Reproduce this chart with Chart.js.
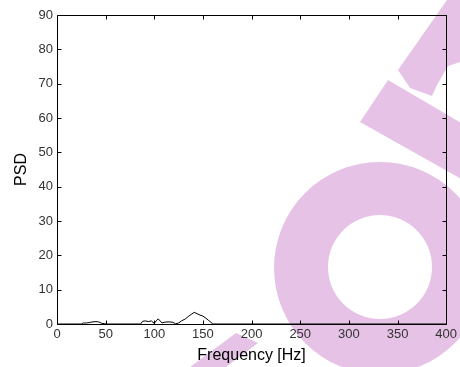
<!DOCTYPE html>
<html>
<head>
<meta charset="utf-8">
<script src="https://cdn.jsdelivr.net/npm/chart.js@4"></script>
<style>
  html, body { margin: 0; padding: 0; background: #fff; }
  #wrap { width: 460px; height: 367px; position: relative; }
</style>
</head>
<body>
<div id="wrap"><canvas id="c" width="460" height="367"></canvas></div>
<script>
// Data
const freq = [0, 25, 27, 30, 33, 36, 40, 43, 46, 49, 52, 86, 88, 91, 94, 97, 100, 102, 104, 106, 108, 110, 113, 116, 119, 122, 125, 128, 132, 135, 138, 141, 144, 147, 150, 153, 156, 158, 160, 400];
const psd  = [0, 0, 0.3, 0.3, 0.4, 0.6, 0.7, 0.6, 0.2, 0.1, 0, 0, 0.8, 0.9, 0.7, 0.9, 0.2, 0.9, 1.5, 0.9, 0.3, 0.5, 0.6, 0.6, 0.5, 0.05, 0.3, 0.9, 1.5, 2.2, 2.8, 3.4, 3.0, 2.6, 2.3, 1.7, 1.0, 0.6, 0, 0];
const xTicks = [0, 50, 100, 150, 200, 250, 300, 350, 400];
const yTicks = [0, 10, 20, 30, 40, 50, 60, 70, 80, 90];
const xTitle = 'Frequency [Hz]';
const yTitle = 'PSD';

const points = freq.map((f, i) => ({ x: f, y: psd[i] }));

// Background watermark decoration (not data)
const watermark = {
  id: 'watermark',
  beforeDraw(chart) {
    const ctx = chart.ctx;
    ctx.save();
    ctx.fillStyle = '#e6c2e6';
    // ring
    ctx.beginPath();
    ctx.arc(380, 268, 106, 0, Math.PI * 2);
    ctx.moveTo(380 + 52, 267);
    ctx.arc(380, 267, 52, 0, Math.PI * 2, true);
    ctx.fill('evenodd');
    // band
    ctx.beginPath();
    ctx.moveTo(360, 122); ctx.lineTo(388, 80); ctx.lineTo(470, 128); ctx.lineTo(470, 184);
    ctx.closePath(); ctx.fill();
    // upper arc piece
    ctx.beginPath();
    ctx.moveTo(398, 70); ctx.lineTo(447, 0); ctx.lineTo(460, 0); ctx.lineTo(460, 62);
    ctx.lineTo(448, 66); ctx.lineTo(437, 85); ctx.lineTo(432, 96); ctx.lineTo(410, 88);
    ctx.closePath(); ctx.fill();
    // lower-left stripe
    ctx.beginPath();
    ctx.moveTo(190, 367); ctx.lineTo(236, 333); ctx.lineTo(258, 343); ctx.lineTo(226, 367);
    ctx.closePath(); ctx.fill();
    ctx.restore();
  }
};

// MATLAB-like box with inward ticks, using the chart's own scales
const frame = {
  id: 'frame',
  afterDraw(chart) {
    const { ctx, chartArea: { left, right, top, bottom }, scales: { x, y } } = chart;
    ctx.save();
    ctx.strokeStyle = '#000';
    ctx.lineWidth = 1;
    ctx.beginPath();
    const L = Math.round(left) + 0.5, R = Math.round(right) + 0.5;
    const T = Math.round(top) + 0.5, B = Math.round(bottom) + 0.5;
    ctx.rect(L, T, R - L, B - T);
    x.ticks.forEach(t => {
      const px = Math.round(x.getPixelForValue(t.value)) + 0.5;
      ctx.moveTo(px, B); ctx.lineTo(px, B - 4);
      ctx.moveTo(px, T); ctx.lineTo(px, T + 4);
    });
    y.ticks.forEach(t => {
      const py = Math.round(y.getPixelForValue(t.value)) + 0.5;
      ctx.moveTo(L, py); ctx.lineTo(L + 4, py);
      ctx.moveTo(R, py); ctx.lineTo(R - 4, py);
    });
    ctx.stroke();
    ctx.restore();
  }
};

const tickFont = { family: 'Liberation Sans, Arial, sans-serif', size: 13 };
const titleFont = { family: 'Liberation Sans, Arial, sans-serif', size: 16 };

new Chart(document.getElementById('c'), {
  type: 'line',
  data: {
    datasets: [{
      data: points,
      borderColor: '#000',
      borderWidth: 1,
      pointRadius: 0,
      tension: 0,
      fill: false
    }]
  },
  options: {
    responsive: false,
    animation: false,
    events: [],
    layout: { padding: { left: 0, right: 11, top: 15, bottom: 0 } },
    plugins: { legend: { display: false }, tooltip: { enabled: false } },
    scales: {
      x: {
        type: 'linear',
        min: xTicks[0], max: xTicks[xTicks.length - 1],
        afterBuildTicks: s => { s.ticks = xTicks.map(v => ({ value: v })); },
        afterFit: s => { s.height = 43; },
        grid: { display: false, drawTicks: false },
        border: { display: false },
        ticks: { font: tickFont, color: '#333', padding: 3, maxRotation: 0, autoSkip: false },
        title: { display: true, text: xTitle, font: titleFont, color: '#000', padding: { top: 0, bottom: 2 } }
      },
      y: {
        type: 'linear',
        min: yTicks[0], max: yTicks[yTicks.length - 1],
        afterBuildTicks: s => { s.ticks = yTicks.map(v => ({ value: v })); },
        afterFit: s => { s.width = 57; },
        grid: { display: false, drawTicks: false },
        border: { display: false },
        ticks: { font: tickFont, color: '#333', padding: 4, autoSkip: false },
        title: { display: true, text: yTitle, font: titleFont, color: '#000', padding: { top: 12, bottom: 0 } }
      }
    }
  },
  plugins: [watermark, frame]
});
</script>
</body>
</html>
